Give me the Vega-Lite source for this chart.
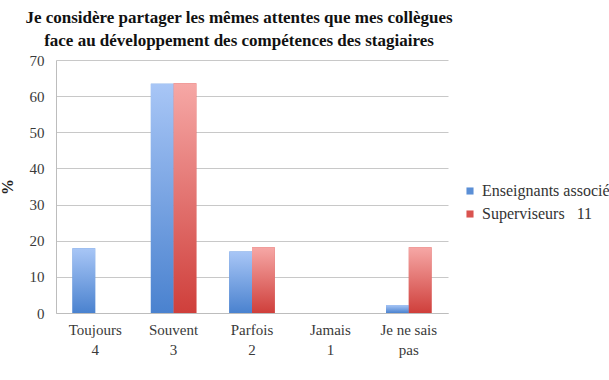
{
  "$schema": "https://vega.github.io/schema/vega-lite/v6.json",
  "width": 392,
  "height": 253,
  "autosize": {"type": "none"},
  "padding": {"left": 56, "top": 60, "right": 161, "bottom": 67},
  "background": "white",
  "title": {
    "text": ["Je considère partager les mêmes attentes que mes collègues", "face au développement des compétences des stagiaires"],
    "font": "Liberation Serif",
    "fontSize": 17,
    "fontWeight": "bold",
    "color": "#111111",
    "lineHeight": 23,
    "anchor": "middle",
    "dx": -13,
    "offset": 3
  },
  "data": {
    "values": [
      {"cat": "Toujours", "series": "Enseignants associés", "value": 17.9},
      {"cat": "Toujours", "series": "Superviseurs", "value": 0},
      {"cat": "Souvent", "series": "Enseignants associés", "value": 63.4},
      {"cat": "Souvent", "series": "Superviseurs", "value": 63.6},
      {"cat": "Parfois", "series": "Enseignants associés", "value": 17.0},
      {"cat": "Parfois", "series": "Superviseurs", "value": 18.2},
      {"cat": "Jamais", "series": "Enseignants associés", "value": 0},
      {"cat": "Jamais", "series": "Superviseurs", "value": 0},
      {"cat": "Je ne sais pas", "series": "Enseignants associés", "value": 2.2},
      {"cat": "Je ne sais pas", "series": "Superviseurs", "value": 18.2}
    ]
  },
  "encoding": {
    "x": {
      "field": "cat", "type": "nominal",
      "sort": ["Toujours", "Souvent", "Parfois", "Jamais", "Je ne sais pas"],
      "scale": {"paddingInner": 0.42, "paddingOuter": 0.21},
      "axis": {
        "title": null, "labelAngle": 0, "ticks": false,
        "labelFont": "Liberation Serif", "labelFontSize": 15, "labelColor": "#3a3a3a",
        "labelPadding": 9, "labelLineHeight": 20,
        "labelExpr": "datum.label == 'Je ne sais pas' ? ['Je ne sais', 'pas'] : datum.label == 'Toujours' ? ['Toujours', '\u00a0', '4'] : datum.label == 'Souvent' ? ['Souvent', '\u00a0', '3'] : datum.label == 'Parfois' ? ['Parfois', '\u00a0', '2'] : datum.label == 'Jamais' ? ['Jamais', '\u00a0', '1'] : datum.label",
        "domainColor": "#bdbdbd"
      }
    },
    "y": {
      "field": "value", "type": "quantitative",
      "scale": {"domain": [0, 70]},
      "axis": {
        "title": "%", "titleFont": "Liberation Serif", "titleFontSize": 16, "titleFontWeight": "bold",
        "titleColor": "#222222", "titlePadding": 14,
        "values": [0, 10, 20, 30, 40, 50, 60, 70],
        "labelOverlap": false,
        "labelFont": "Liberation Serif", "labelFontSize": 15, "labelColor": "#3a3a3a",
        "ticks": false, "labelPadding": 12,
        "gridColor": "#c8c8c8", "domainColor": "#bdbdbd"
      }
    },
    "xOffset": {"field": "series", "type": "nominal", "scale": {"domain": ["Enseignants associés", "Superviseurs"]}}
  },
  "layer": [
    {
      "mark": {"type": "bar"},
      "encoding": {
        "color": {
          "field": "series", "type": "nominal",
          "scale": {"domain": ["Enseignants associés", "Superviseurs"], "range": ["#5b8fd6", "#d9534f"]},
          "legend": {
            "title": null, "orient": "none", "legendX": 406, "legendY": 123,
            "symbolType": "square", "symbolSize": 50, "symbolStrokeWidth": 0,
            "labelFont": "Liberation Serif", "labelFontSize": 16, "labelColor": "#333333",
            "rowPadding": 7, "labelOffset": 4, "labelLimit": 300,
            "labelExpr": "datum.label == 'Superviseurs' ? 'Superviseurs\u00a0\u00a0\u00a011' : datum.label"
          }
        }
      }
    },
    {
      "transform": [{"filter": "datum.series == 'Enseignants associés'"}],
      "mark": {"type": "bar", "color": {"gradient": "linear", "x1": 0, "y1": 1, "x2": 0, "y2": 0, "stops": [{"offset": 0, "color": "#4a82cf"}, {"offset": 1, "color": "#a8c6f6"}]}}
    },
    {
      "transform": [{"filter": "datum.series == 'Superviseurs'"}],
      "mark": {"type": "bar", "color": {"gradient": "linear", "x1": 0, "y1": 1, "x2": 0, "y2": 0, "stops": [{"offset": 0, "color": "#cf3f3b"}, {"offset": 1, "color": "#f6a8a6"}]}}
    }
  ],
  "config": {"view": {"stroke": null}}
}
